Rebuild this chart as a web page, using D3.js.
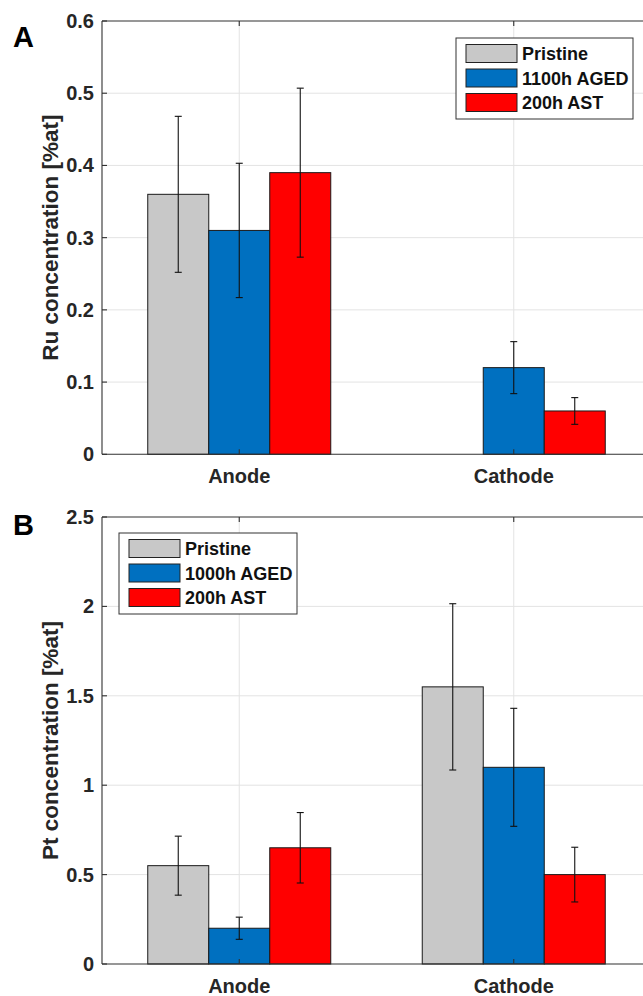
<!DOCTYPE html>
<html>
<head>
<meta charset="utf-8">
<script src="https://cdn.jsdelivr.net/npm/d3@7"></script>
<style>
  html, body { margin: 0; padding: 0; background: #fff; }
  svg { display: block; font-family: "Liberation Sans", Arial, sans-serif; font-weight: bold; }
</style>
</head>
<body>
<svg id="chart" width="643" height="996"></svg>
<script>
// Categories and series
const categories = ["Anode", "Cathode"];
const seriesColors = ["#c8c8c8", "#0070c0", "#ff0000"];
const legendA = ["Pristine", "1100h AGED", "200h AST"];
const legendB = ["Pristine", "1000h AGED", "200h AST"];

// Ru concentration [%at] (panel A)
const ruPristine = [0.36, 0];
const ruAged = [0.31, 0.12];
const ruAst = [0.39, 0.06];
const ruPristineErr = [0.108, null];
const ruAgedErr = [0.093, 0.036];
const ruAstErr = [0.117, 0.0185];
const ruTicks = [0, 0.1, 0.2, 0.3, 0.4, 0.5, 0.6];

// Pt concentration [%at] (panel B)
const ptPristine = [0.55, 1.55];
const ptAged = [0.2, 1.1];
const ptAst = [0.65, 0.5];
const ptPristineErr = [0.165, 0.465];
const ptAgedErr = [0.062, 0.33];
const ptAstErr = [0.197, 0.153];
const ptTicks = [0, 0.5, 1, 1.5, 2, 2.5];

const svg = d3.select("#chart");
const AXIS = "#303030";
const GRID = "#e3e3e3";

function panel(cfg) {
  const g = svg.append("g");
  const x = d3.scaleLinear().domain([0.5, 2.5]).range([102, 651]);
  const y = d3.scaleLinear().domain([cfg.ticks[0], cfg.ticks[cfg.ticks.length - 1]]).range([cfg.bottom, cfg.top]);
  const barW = 2 / 9;          // bar width in category units
  const offsets = [-barW, 0, barW];

  // grid
  g.append("g").selectAll("line.h").data(cfg.ticks.slice(1, -1)).join("line")
    .attr("x1", x.range()[0]).attr("x2", x.range()[1])
    .attr("y1", d => y(d)).attr("y2", d => y(d))
    .attr("stroke", GRID).attr("stroke-width", 1);
  g.append("g").selectAll("line.v").data(categories).join("line")
    .attr("x1", (d, i) => x(i + 1)).attr("x2", (d, i) => x(i + 1))
    .attr("y1", cfg.top).attr("y2", cfg.bottom)
    .attr("stroke", GRID).attr("stroke-width", 1);

  // bars
  const bars = [];
  cfg.series.forEach((vals, s) => {
    vals.forEach((v, i) => bars.push({ s, i, v, e: cfg.errors[s][i] }));
  });
  g.append("g").selectAll("rect").data(bars).join("rect")
    .attr("x", d => x(d.i + 1 + offsets[d.s] - barW / 2))
    .attr("width", d => x(barW) - x(0))
    .attr("y", d => y(d.v))
    .attr("height", d => y(0) - y(d.v))
    .attr("fill", d => seriesColors[d.s])
    .attr("stroke", "#1a1a1a").attr("stroke-width", 1);

  // error bars
  const eb = g.append("g").attr("stroke", "#111").attr("stroke-width", 1.1);
  bars.filter(d => d.e != null).forEach(d => {
    const cx = x(d.i + 1 + offsets[d.s]);
    eb.append("line").attr("x1", cx).attr("x2", cx).attr("y1", y(d.v - d.e)).attr("y2", y(d.v + d.e));
    [d.v - d.e, d.v + d.e].forEach(t => {
      eb.append("line").attr("x1", cx - 3.5).attr("x2", cx + 3.5).attr("y1", y(t)).attr("y2", y(t));
    });
  });

  // axes box
  const ax = g.append("g").attr("stroke", AXIS).attr("stroke-width", 1.1);
  ax.append("line").attr("x1", x.range()[0]).attr("x2", x.range()[1]).attr("y1", cfg.bottom).attr("y2", cfg.bottom);
  ax.append("line").attr("x1", x.range()[0]).attr("x2", x.range()[1]).attr("y1", cfg.top).attr("y2", cfg.top);
  ax.append("line").attr("x1", x.range()[0]).attr("x2", x.range()[0]).attr("y1", cfg.top).attr("y2", cfg.bottom);
  // inward ticks
  cfg.ticks.forEach(t => {
    ax.append("line").attr("x1", x.range()[0]).attr("x2", x.range()[0] + 5).attr("y1", y(t)).attr("y2", y(t));
  });
  categories.forEach((c, i) => {
    ax.append("line").attr("x1", x(i + 1)).attr("x2", x(i + 1)).attr("y1", cfg.top).attr("y2", cfg.top + 5);
    ax.append("line").attr("x1", x(i + 1)).attr("x2", x(i + 1)).attr("y1", cfg.bottom).attr("y2", cfg.bottom - 5);
  });

  // tick labels
  g.append("g").selectAll("text").data(cfg.ticks).join("text")
    .attr("x", 94).attr("y", d => y(d) + 7)
    .attr("text-anchor", "end").attr("font-size", 20).attr("fill", "#262626")
    .text(d => String(d));
  g.append("g").selectAll("text").data(categories).join("text")
    .attr("x", (d, i) => x(i + 1)).attr("y", cfg.bottom + 29)
    .attr("text-anchor", "middle").attr("font-size", 20).attr("fill", "#262626")
    .text(d => d);

  // y title
  const yc = (cfg.top + cfg.bottom) / 2;
  g.append("text")
    .attr("transform", `translate(58,${yc}) rotate(-90)`)
    .attr("text-anchor", "middle").attr("font-size", 22.5).attr("fill", "#262626")
    .text(cfg.title);

  // panel letter
  g.append("text").attr("x", 13).attr("y", cfg.letterY)
    .attr("font-size", 29).attr("fill", "#000").text(cfg.letter);

  // legend
  const L = cfg.legend;
  const lg = g.append("g");
  lg.append("rect").attr("x", L.x).attr("y", L.y).attr("width", L.w).attr("height", L.h)
    .attr("fill", "#fff").attr("stroke", "#333").attr("stroke-width", 1);
  L.names.forEach((n, k) => {
    const ry = L.y + 6.5 + k * 24.5;
    lg.append("rect").attr("x", L.x + 10).attr("y", ry).attr("width", 51).attr("height", 18)
      .attr("fill", seriesColors[k]).attr("stroke", "#222").attr("stroke-width", 1);
    lg.append("text").attr("x", L.x + 66).attr("y", ry + 15.5)
      .attr("font-size", 18).attr("fill", "#111").text(n);
  });
}

panel({
  top: 21, bottom: 454.3, ticks: ruTicks,
  series: [ruPristine, ruAged, ruAst],
  errors: [ruPristineErr, ruAgedErr, ruAstErr],
  title: "Ru concentration [%at]", letter: "A", letterY: 47,
  legend: { x: 456, y: 38, w: 177, h: 81, names: legendA }
});

panel({
  top: 517, bottom: 964, ticks: ptTicks,
  series: [ptPristine, ptAged, ptAst],
  errors: [ptPristineErr, ptAgedErr, ptAstErr],
  title: "Pt concentration [%at]", letter: "B", letterY: 535,
  legend: { x: 119, y: 533, w: 178, h: 81, names: legendB }
});
</script>
</body>
</html>
